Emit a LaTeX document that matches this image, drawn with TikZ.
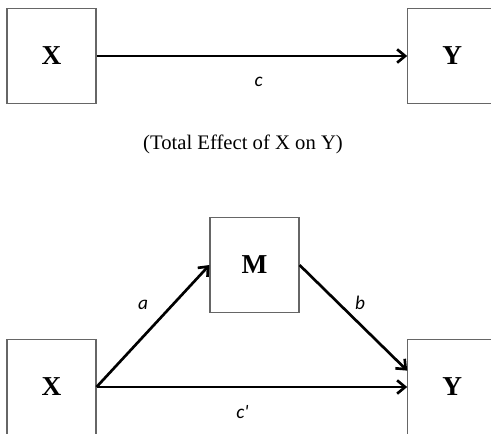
\documentclass[tikz,border=0pt]{standalone}
\usepackage{fontspec}
\setmainfont{Liberation Serif}
\newfontfamily\coeffont{Carlito}
\usetikzlibrary{positioning,arrows.meta,calc}

\begin{document}
\begin{tikzpicture}[x=0.75pt, y=-0.75pt]
\tikzset{
    var/.style={rectangle, draw=black!60, line width=0.8pt, minimum width=66.75pt, minimum height=71.5pt, font=\fontsize{20.5}{24}\selectfont\bfseries},
    effect/.style={-{Straight Barb[length=6pt,width=10pt]}, line width=2pt},
    coef/.style={font=\coeffont\itshape\fontsize{14.5}{17}\selectfont}
}
\useasboundingbox (0,0) rectangle (491,433);
% total effect
\node[var] (xtot) at (51.5,56) {X};
\node[var, right=233pt of xtot] (ytot) {Y};
\node[font=\fontsize{15.5}{18}\selectfont] (caption) at (243,144) {(Total Effect of X on Y)};
\draw[effect] (xtot) -- node[coef, midway, xshift=5pt, yshift=-19.5pt]{c} (ytot);
% mediation
\node[var] (xmed) at (51.5,387) {X};
\node[var, right=233pt of xmed] (ymed) {Y};
\node[var] (med) at (254.5,265) {M};
\draw[effect] (xmed.east) -- node[coef, midway, xshift=-7.5pt, yshift=16pt]{a} (med.west);
\draw[effect] (med.east) -- node[coef, midway, xshift=5pt, yshift=11pt]{b} (ymed.160);
\draw[effect] (xmed.east) -- node[coef, midway, xshift=-7pt, yshift=-19pt]{c'} (ymed.west);
\end{tikzpicture}
\end{document}
